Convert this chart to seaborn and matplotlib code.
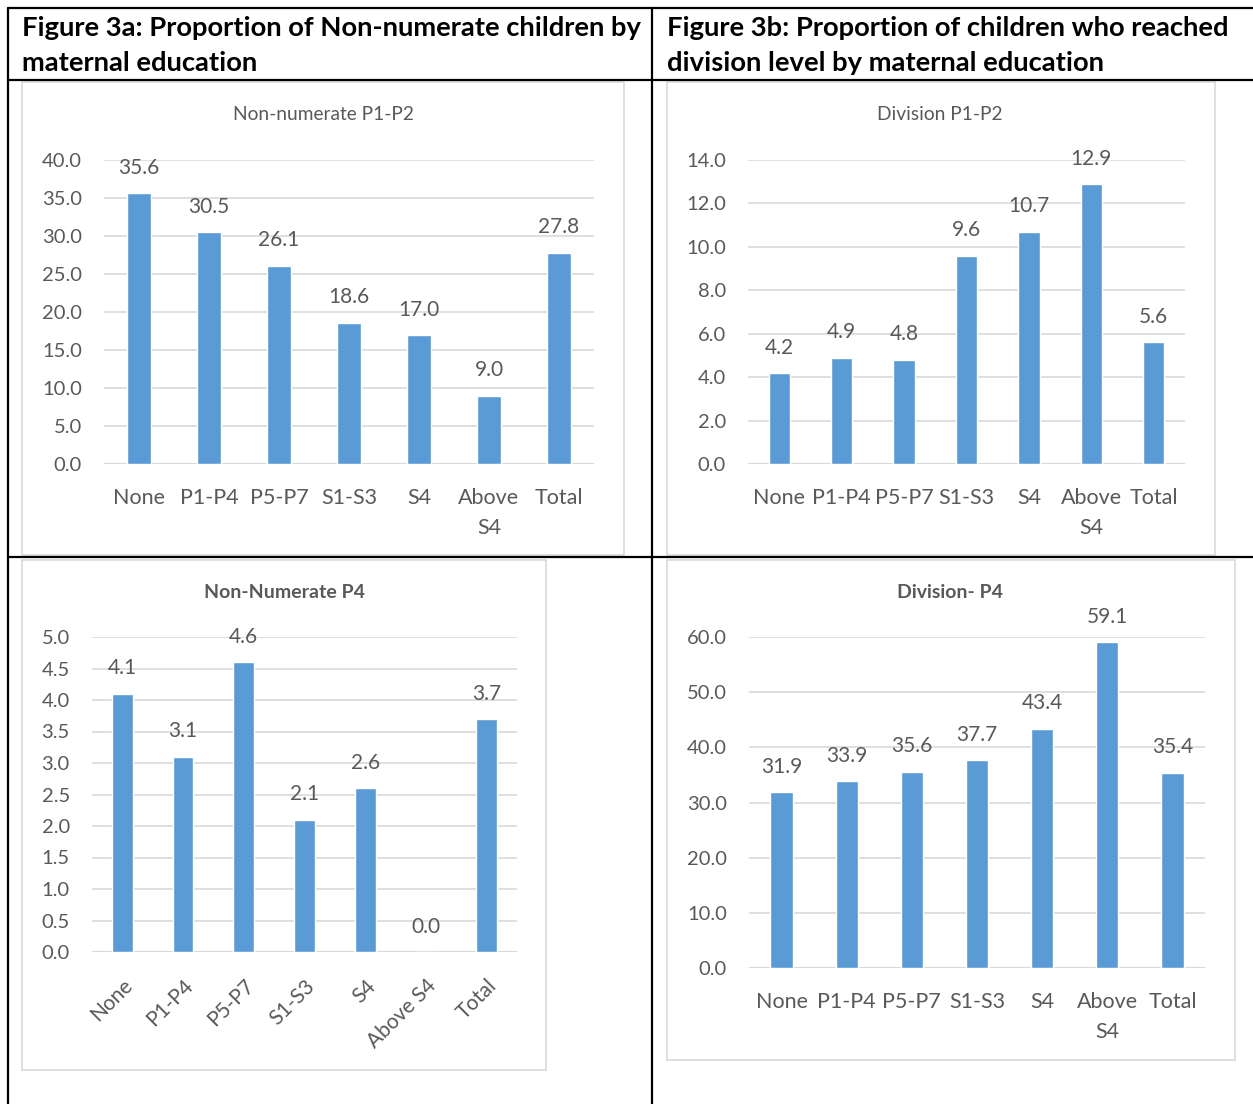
import matplotlib.pyplot as plt
import pandas as pd
import seaborn as sns
from matplotlib.lines import Line2D
from matplotlib.patches import Rectangle

levels = ["None", "P1-P4", "P5-P7", "S1-S3", "S4", "Above S4", "Total"]
levels_wrapped = ["None", "P1-P4", "P5-P7", "S1-S3", "S4", "Above\nS4", "Total"]

non_numerate_p1p2 = [35.6, 30.5, 26.1, 18.6, 17.0, 9.0, 27.8]
division_p1p2 = [4.2, 4.9, 4.8, 9.6, 10.7, 12.9, 5.6]
non_numerate_p4 = [4.1, 3.1, 4.6, 2.1, 2.6, 0.0, 3.7]
division_p4 = [31.9, 33.9, 35.6, 37.7, 43.4, 59.1, 35.4]

BAR = "#5B9BD5"
GRID = "#D9D9D9"
TXT = "#595959"
W, H = 1253, 1104

sns.set_theme(style="white")
plt.rcParams["font.family"] = ["Lato", "DejaVu Sans"]

fig = plt.figure(figsize=(W / 100, H / 100), dpi=100)


def fx(x):
    return x / W


def fy(y):
    return 1 - y / H


def hline(x0, x1, y, color="black", lw=1.6):
    fig.add_artist(Line2D([fx(x0), fx(x1)], [fy(y), fy(y)], color=color, lw=lw))


def vline(x, y0, y1, color="black", lw=1.6):
    fig.add_artist(Line2D([fx(x), fx(x)], [fy(y0), fy(y1)], color=color, lw=lw))


def box(x0, y0, x1, y1):
    fig.add_artist(Rectangle((fx(x0), fy(y1)), fx(x1 - x0), (y1 - y0) / H,
                             fill=False, edgecolor=GRID, lw=1.2))


# table frame
hline(8, W, 8)
hline(8, W, 80)
hline(8, W, 557)
vline(8, 8, H)
vline(652, 8, H)

hdr = dict(fontsize=19.7, fontweight="bold", color="black", va="center", ha="left")
fig.text(fx(22), fy(28), "Figure 3a: Proportion of Non-numerate children by", **hdr)
fig.text(fx(22), fy(63), "maternal education", **hdr)
fig.text(fx(667), fy(28), "Figure 3b: Proportion of children who reached", **hdr)
fig.text(fx(667), fy(63), "division level by maternal education", **hdr)

box(22, 82, 624, 555)
box(667, 82, 1215, 555)
box(22, 560, 546, 1070)
box(667, 560, 1235, 1060)


def chart(values, labels, rect, ymax, step, title, bold, title_xy, rotate=False):
    x0, y0, x1, y1 = rect
    ax = fig.add_axes([fx(x0), fy(y1), fx(x1 - x0), (y1 - y0) / H])
    df = pd.DataFrame({"level": labels, "value": values})
    sns.barplot(data=df, x="level", y="value", color=BAR, saturation=1,
                width=0.34, ax=ax, zorder=3)
    ax.set_ylim(0, ymax)
    ax.set_xlim(-0.5, len(labels) - 0.5)
    ticks = [i * step for i in range(int(round(ymax / step)) + 1)]
    ax.set_yticks(ticks)
    ax.set_yticklabels([f"{t:.1f}" for t in ticks])
    ax.yaxis.grid(True, color=GRID, lw=1.2, zorder=0)
    for s in ax.spines.values():
        s.set_visible(False)
    ax.axhline(0, color=GRID, lw=1.5, zorder=2)
    ax.set_xlabel("")
    ax.set_ylabel("")
    ax.tick_params(axis="y", length=0, pad=16, labelsize=14.5, labelcolor=TXT)
    ax.tick_params(axis="x", length=0, pad=17, labelsize=15.5, labelcolor=TXT)
    for t in ax.get_xticklabels():
        t.set_linespacing(1.65)
    if rotate:
        for t in ax.get_xticklabels():
            t.set_rotation(45)
            t.set_ha("right")
            t.set_rotation_mode("anchor")
            t.set_fontsize(15)
    ax.bar_label(ax.containers[0], fmt="%.1f", padding=11, fontsize=15, color=TXT)
    fig.text(fx(title_xy[0]), fy(title_xy[1]), title, ha="center", va="center",
             fontsize=14 if bold else 13.8, color=TXT,
             fontweight="bold" if bold else "normal")
    return ax


chart(non_numerate_p1p2, levels_wrapped, (104, 160, 594, 464), 40, 5,
      "Non-numerate P1-P2", False, (323, 115))
chart(division_p1p2, levels_wrapped, (748, 160, 1185, 464), 14, 2,
      "Division P1-P2", False, (940, 115))
chart(non_numerate_p4, levels, (92, 637, 517, 952), 5, 0.5,
      "Non-Numerate P4", True, (284, 592), rotate=True)
chart(division_p4, levels_wrapped, (749, 637, 1205, 968), 60, 10,
      "Division- P4", True, (950, 592))

fig.savefig("out.png", dpi=100)
